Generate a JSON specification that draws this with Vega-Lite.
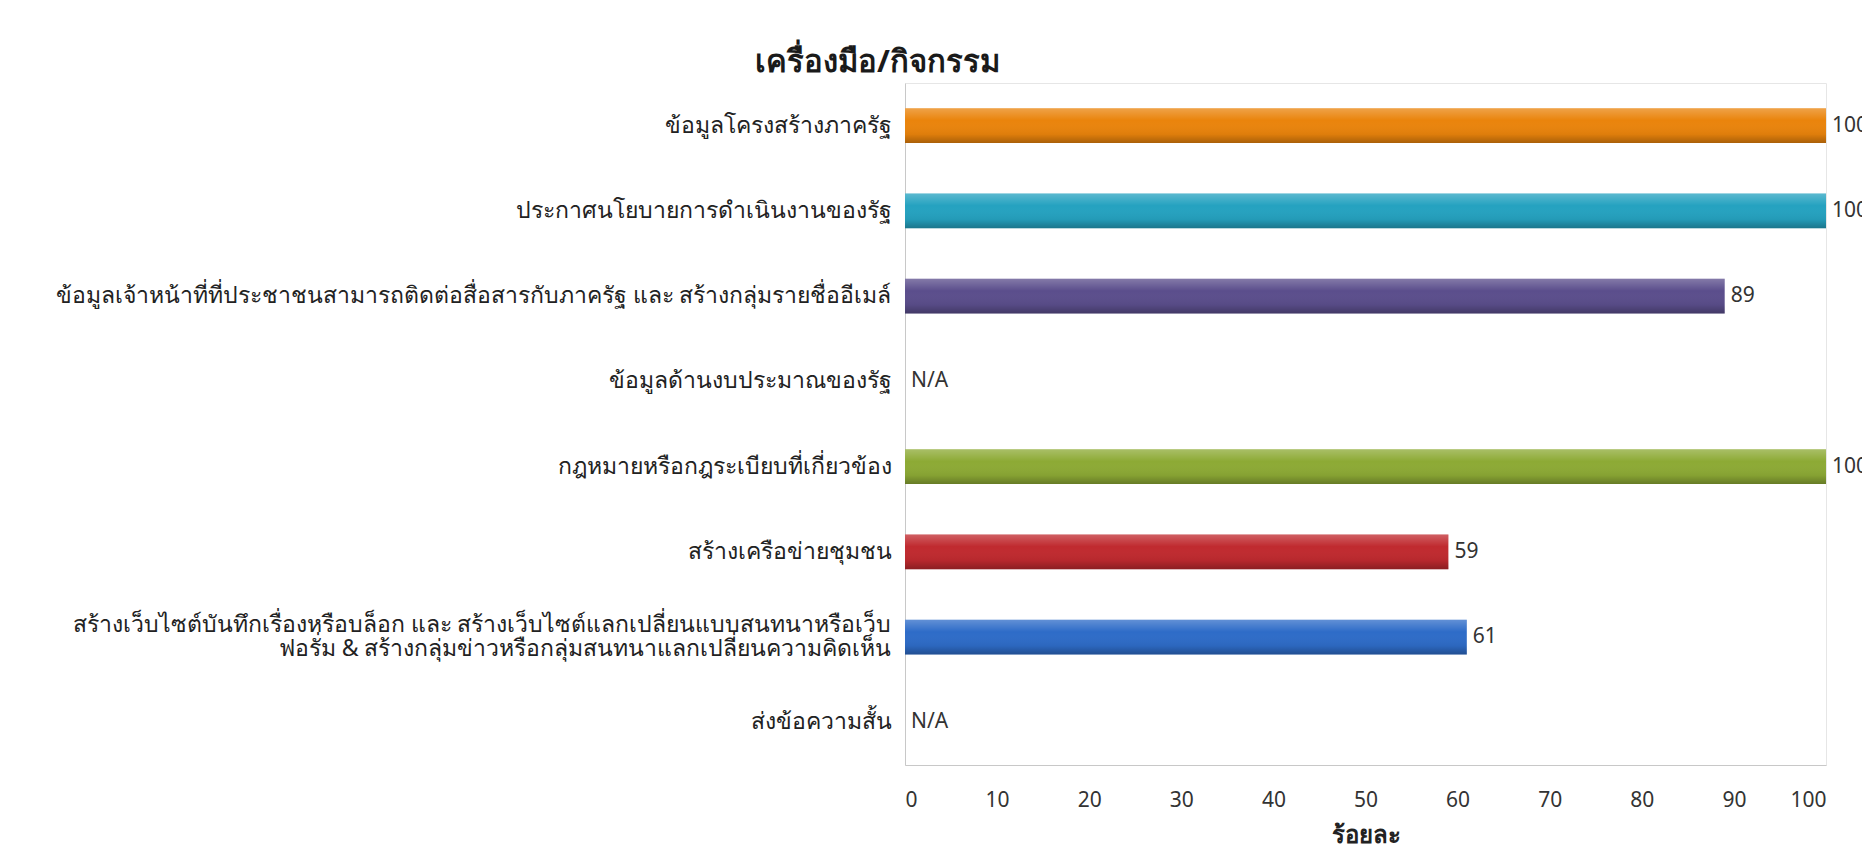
{
  "$schema": "https://vega.github.io/schema/vega-lite/v6.json",
  "width": 921,
  "height": 682,
  "autosize": "none",
  "padding": {"left": 905, "top": 83, "right": 36, "bottom": 102},
  "background": "white",
  "config": {"font": "Noto Sans", "view": {"stroke": "#e6e6e6"}},
  "title": {"text": "เครื่องมือ/กิจกรรม", "anchor": "start", "frame": "group", "dx": -150, "offset": 4, "fontSize": 31, "fontWeight": "bold", "color": "#1a1a1a"},
  "data": {"values": [
    {"cat": "ข้อมูลโครงสร้างภาครัฐ", "value": 100, "label": "100"},
    {"cat": "ประกาศนโยบายการดำเนินงานของรัฐ", "value": 100, "label": "100"},
    {"cat": "ข้อมูลเจ้าหน้าที่ที่ประชาชนสามารถติดต่อสื่อสารกับภาครัฐ และ สร้างกลุ่มรายชื่ออีเมล์", "value": 89, "label": "89"},
    {"cat": "ข้อมูลด้านงบประมาณของรัฐ", "value": null, "label": "N/A"},
    {"cat": "กฎหมายหรือกฎระเบียบที่เกี่ยวข้อง", "value": 100, "label": "100"},
    {"cat": "สร้างเครือข่ายชุมชน", "value": 59, "label": "59"},
    {"cat": "สร้างเว็บไซต์บันทึกเรื่องหรือบล็อก และ สร้างเว็บไซต์แลกเปลี่ยนแบบสนทนาหรือเว็บ|ฟอรั่ม & สร้างกลุ่มข่าวหรือกลุ่มสนทนาแลกเปลี่ยนความคิดเห็น", "value": 61, "label": "61"},
    {"cat": "ส่งข้อความสั้น", "value": null, "label": "N/A"}
  ]},
  "transform": [{"calculate": "datum.value == null ? 0 : datum.value", "as": "labelX"}],
  "encoding": {
    "y": {
      "field": "cat", "type": "nominal",
      "scale": {"paddingInner": 0.59, "paddingOuter": 0.295, "domain": [
        "ข้อมูลโครงสร้างภาครัฐ",
        "ประกาศนโยบายการดำเนินงานของรัฐ",
        "ข้อมูลเจ้าหน้าที่ที่ประชาชนสามารถติดต่อสื่อสารกับภาครัฐ และ สร้างกลุ่มรายชื่ออีเมล์",
        "ข้อมูลด้านงบประมาณของรัฐ",
        "กฎหมายหรือกฎระเบียบที่เกี่ยวข้อง",
        "สร้างเครือข่ายชุมชน",
        "สร้างเว็บไซต์บันทึกเรื่องหรือบล็อก และ สร้างเว็บไซต์แลกเปลี่ยนแบบสนทนาหรือเว็บ|ฟอรั่ม & สร้างกลุ่มข่าวหรือกลุ่มสนทนาแลกเปลี่ยนความคิดเห็น",
        "ส่งข้อความสั้น"
      ]},
      "axis": {"title": null, "ticks": false, "labelPadding": 14, "labelFontSize": 23, "labelColor": "#222222", "labelLimit": 1000, "domainColor": "#c8c8c8", "labelExpr": "split(datum.value, '|')", "labelLineHeight": 24,
        "labelOffset": {"condition": {"test": "indexof(datum.value, '|') >= 0", "value": -12}, "value": 0}}
    }
  },
  "layer": [
    {
      "mark": {"type": "bar"},
      "encoding": {
        "x": {"field": "value", "type": "quantitative", "scale": {"domain": [0, 100]},
          "axis": {"title": "ร้อยละ", "titleFontSize": 24, "titleFontWeight": "bold", "titleColor": "#222222", "titlePadding": 13, "values": [0,10,20,30,40,50,60,70,80,90,100], "grid": false, "ticks": false, "labelPadding": 24, "labelFontSize": 21, "labelColor": "#333333", "domainColor": "#c8c8c8"}},
        "color": {"field": "cat", "type": "nominal", "sort": null, "legend": null,
          "scale": {"range": ["#EA840C", "#25A2C0", "#5B4E8C", "#8DAA35", "#C02A2F", "#2E6CC8"]}}
      }
    },
    {
      "mark": {"type": "bar", "fill": {"gradient": "linear", "x1": 0, "y1": 0, "x2": 0, "y2": 1, "stops": [
        {"offset": 0, "color": "rgba(255,255,255,0.25)"},
        {"offset": 0.35, "color": "rgba(255,255,255,0)"},
        {"offset": 0.75, "color": "rgba(0,0,0,0.05)"},
        {"offset": 1, "color": "rgba(0,0,0,0.28)"}
      ]}},
      "encoding": {
        "x": {"field": "value", "type": "quantitative"}
      }
    },
    {
      "mark": {"type": "text", "align": "left", "dx": 6, "fontSize": 21, "color": "#333333"},
      "encoding": {
        "x": {"field": "labelX", "type": "quantitative"},
        "text": {"field": "label"}
      }
    }
  ]
}
